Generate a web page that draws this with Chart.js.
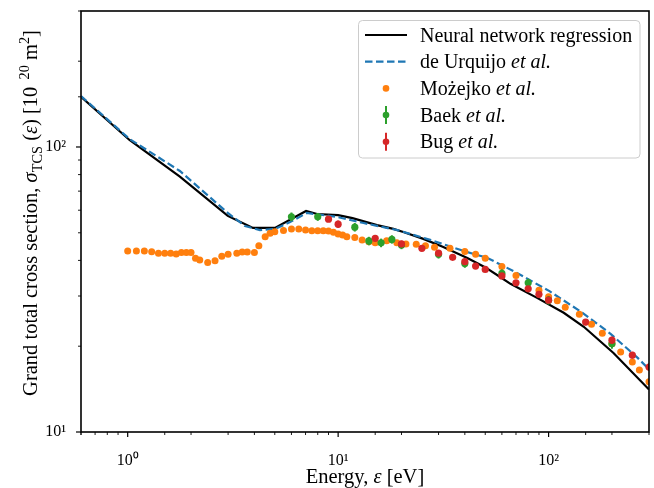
<!DOCTYPE html>
<html>
<head>
<meta charset="utf-8">
<script src="https://cdn.jsdelivr.net/npm/chart.js@4.4.0/dist/chart.umd.min.js"></script>
<style>
  html, body { margin: 0; padding: 0; background: #fff; }
  #wrap { width: 654px; height: 488px; }
</style>
</head>
<body>
<div id="wrap"><canvas id="c" width="654" height="488"></canvas></div>
<script>
// grand total cross section vs energy, log-log

const nnEnergy = [0.6, 1.02, 1.77, 2.99, 3.94, 5.01, 7.04, 7.94, 10, 11.7, 15.3, 18.3, 20.4, 25.4, 31.6, 41.1, 50.1, 59.1, 65.9, 88.6, 118, 147, 204, 300];
const nnSigma = [150, 105.8, 78.7, 57.3, 52.0, 52.0, 59.6, 58.2, 57.7, 56.3, 53.2, 51.6, 50.3, 47.6, 44.6, 40.8, 37.8, 34.9, 33.1, 29.5, 26.2, 23.4, 18.9, 14.1];

const urqEnergy = [0.6, 1.02, 1.77, 2.99, 3.61, 4.25, 5.01, 5.91, 7.1, 9.9, 13.2, 19.1, 27.4, 39.4, 51.2, 69.6, 101, 145, 197, 265, 300];
const urqSigma = [151, 106.7, 82.4, 58.7, 52.8, 51.1, 51.6, 54.5, 58.7, 56.8, 54.1, 51.1, 47.2, 43.2, 40.8, 36.4, 31.2, 26.2, 22.1, 18.2, 16.6];

const mozEnergy = [1.0, 1.1, 1.2, 1.3, 1.4, 1.5, 1.6, 1.7, 1.8, 1.9, 2.0, 2.1, 2.2, 2.4, 2.6, 2.8, 3.0, 3.3, 3.5, 3.7, 4.0, 4.2, 4.5, 4.75, 5.0,
  5.5, 6.0, 6.5, 7.0, 7.5, 8.0, 8.5, 9.0, 9.5, 10, 10.5, 11, 12, 13, 14, 15, 17, 19, 21, 23.5, 26, 28.7, 34, 40, 45, 50,
  60, 70, 90, 100, 110, 120, 140, 160, 180, 200, 220, 250, 270, 300];
const mozSigma = [43.2, 43.2, 43.2, 42.9, 42.4, 42.4, 42.4, 42.1, 42.6, 42.6, 42.6, 40.7, 40.1, 39.3, 39.9, 41.4, 42.0, 42.4, 42.8, 42.8, 42.6, 45.0, 48.4, 49.8, 50.4,
  50.9, 51.6, 51.6, 51.1, 50.8, 50.8, 50.8, 50.7, 50.2, 49.5, 49.1, 48.4, 48.1, 47.2, 46.5, 46.1, 46.9, 46.1, 45.7, 45.6, 45.0, 44.5, 44.1, 43.0, 42.0, 40.7,
  38.1, 35.4, 31.4, 29.8, 28.9, 27.4, 25.9, 23.9, 22.2, 20.4, 19.1, 17.6, 16.5, 15.0];

const baekEnergy = [6, 8, 12, 14, 16, 18, 20, 30, 40, 60, 80, 100, 200];
const baekSigma = [56.9, 56.9, 52.3, 46.8, 46.1, 47.4, 45.3, 42.0, 39.0, 36.0, 33.4, 29.0, 20.4];
const baekErr = [2.0, 1.8, 1.8, 1.6, 1.6, 1.6, 1.5, 1.4, 1.3, 1.2, 1.1, 1.0, 0.8];

const bugEnergy = [9, 10, 15, 20, 25, 30, 35, 40, 45, 50, 60, 70, 80, 90, 100, 150, 200, 250, 300];
const bugSigma = [55.8, 53.6, 47.8, 45.7, 44.1, 42.4, 41.0, 39.6, 38.2, 37.2, 35.3, 33.4, 31.8, 30.4, 29.0, 24.3, 21.0, 18.6, 16.9];
const bugErr = [1.2, 1.6, 1.0, 1.2, 0.9, 0.9, 0.8, 0.9, 0.8, 0.8, 0.8, 0.7, 0.7, 0.7, 0.7, 0.6, 0.6, 0.5, 0.5];

const FONT = '"Liberation Serif", "Times New Roman", serif';
const C_BLUE = '#1f77b4', C_ORANGE = '#ff7f0e', C_GREEN = '#2ca02c', C_RED = '#d62728';
const TITLE_SIZE = 20.5;

function pts(xs, ys) {
  return xs.map((x, i) => ({ x: x, y: ys[i] }));
}

function fnt(size, italic) {
  return (italic ? 'italic ' : '') + size + 'px ' + FONT;
}

// text made of runs: {t, i (italic), sub, sup}
function richWidth(ctx, parts, size) {
  let w = 0;
  parts.forEach(p => {
    ctx.font = fnt((p.sub || p.sup) ? size * 0.7 : size, p.i);
    w += ctx.measureText(p.t).width;
  });
  return w;
}

function drawRich(ctx, parts, x, y, size) {
  ctx.textAlign = 'left';
  ctx.textBaseline = 'alphabetic';
  parts.forEach(p => {
    const s = (p.sub || p.sup) ? size * 0.7 : size;
    ctx.font = fnt(s, p.i);
    let dy = 0;
    if (p.sub) dy = size * 0.22;
    if (p.sup) dy = -size * 0.4;
    ctx.fillText(p.t, x, y + dy);
    x += ctx.measureText(p.t).width;
  });
}

const isMajor = v => Math.abs(Math.log10(v) - Math.round(Math.log10(v))) < 1e-9;
const supDigits = { '0': '\u2070', '1': '\u00b9', '2': '\u00b2', '3': '\u00b3', '-': '\u207b' };
const powLabel = v => '10' + String(Math.round(Math.log10(v))).split('').map(ch => supDigits[ch]).join('');

const errorBars = {
  id: 'errorBars',
  beforeDatasetDraw(chart, args) {
    const ds = chart.data.datasets[args.index];
    if (!ds.errors) return;
    const ctx = chart.ctx, xs = chart.scales.x, ys = chart.scales.y, a = chart.chartArea;
    ctx.save();
    ctx.beginPath();
    ctx.rect(a.left, a.top, a.right - a.left, a.bottom - a.top);
    ctx.clip();
    ctx.strokeStyle = ds.borderColor;
    ctx.lineWidth = 2;
    ds.data.forEach((p, i) => {
      const px = xs.getPixelForValue(p.x);
      ctx.beginPath();
      ctx.moveTo(px, ys.getPixelForValue(p.y - ds.errors[i]));
      ctx.lineTo(px, ys.getPixelForValue(p.y + ds.errors[i]));
      ctx.stroke();
    });
    ctx.restore();
  }
};

const frame = {
  id: 'frame',
  afterDatasetsDraw(chart) {
    const ctx = chart.ctx, a = chart.chartArea;
    ctx.save();
    ctx.strokeStyle = '#000';
    // ticks, bottom and left only
    chart.scales.x.ticks.forEach(t => {
      const px = chart.scales.x.getPixelForValue(t.value);
      const major = isMajor(t.value);
      ctx.lineWidth = major ? 1.2 : 0.9;
      ctx.beginPath();
      ctx.moveTo(px, a.bottom);
      ctx.lineTo(px, a.bottom + (major ? 5 : 3));
      ctx.stroke();
    });
    chart.scales.y.ticks.forEach(t => {
      const py = chart.scales.y.getPixelForValue(t.value);
      const major = isMajor(t.value);
      ctx.lineWidth = major ? 1.2 : 0.9;
      ctx.beginPath();
      ctx.moveTo(a.left, py);
      ctx.lineTo(a.left - (major ? 5 : 3), py);
      ctx.stroke();
    });
    ctx.lineWidth = 1.6;
    ctx.strokeRect(a.left, a.top, a.right - a.left, a.bottom - a.top);
    ctx.restore();
  },
  afterDraw(chart) {
    const ctx = chart.ctx, a = chart.chartArea;
    ctx.save();
    ctx.fillStyle = '#000';

    // x title
    const xt = [{ t: 'Energy, ' }, { t: '\u03b5', i: true }, { t: ' [eV]' }];
    const xw = richWidth(ctx, xt, TITLE_SIZE);
    drawRich(ctx, xt, (a.left + a.right) / 2 - xw / 2, 483, TITLE_SIZE);

    // y title, rotated
    const yt = [{ t: 'Grand total cross section, ' }, { t: '\u03c3', i: true }, { t: 'TCS', sub: true },
      { t: ' (' }, { t: '\u03b5', i: true }, { t: ') [10' }, { t: '  20', sup: true }, { t: ' m' }, { t: '2', sup: true }, { t: ']' }];
    const yw = richWidth(ctx, yt, TITLE_SIZE);
    ctx.translate(37, 213);
    ctx.rotate(-Math.PI / 2);
    drawRich(ctx, yt, -yw / 2, 0, TITLE_SIZE);
    ctx.restore();

    // legend
    ctx.save();
    const L = { x: 358.5, y: 20.5, w: 281.5, h: 137.5, r: 4 };
    ctx.beginPath();
    ctx.roundRect(L.x, L.y, L.w, L.h, L.r);
    ctx.fillStyle = 'rgba(255,255,255,0.8)';
    ctx.fill();
    ctx.strokeStyle = '#cccccc';
    ctx.lineWidth = 1;
    ctx.stroke();

    const rows = [
      { parts: [{ t: 'Neural network regression' }], kind: 'line', color: '#000' },
      { parts: [{ t: 'de Urquijo ' }, { t: 'et al.', i: true }], kind: 'dash', color: C_BLUE },
      { parts: [{ t: 'Mo\u017cejko ' }, { t: 'et al.', i: true }], kind: 'dot', color: C_ORANGE },
      { parts: [{ t: 'Baek ' }, { t: 'et al.', i: true }], kind: 'err', color: C_GREEN },
      { parts: [{ t: 'Bug ' }, { t: 'et al.', i: true }], kind: 'err', color: C_RED }
    ];
    rows.forEach((row, k) => {
      const cy = 35 + k * 26.7;
      ctx.strokeStyle = row.color;
      ctx.fillStyle = row.color;
      if (row.kind === 'line' || row.kind === 'dash') {
        ctx.lineWidth = 2.2;
        ctx.setLineDash(row.kind === 'dash' ? [7.5, 3.5] : []);
        ctx.beginPath();
        ctx.moveTo(365, cy);
        ctx.lineTo(407, cy);
        ctx.stroke();
        ctx.setLineDash([]);
      } else {
        if (row.kind === 'err') {
          ctx.lineWidth = 2;
          ctx.beginPath();
          ctx.moveTo(386, cy - 9);
          ctx.lineTo(386, cy + 9);
          ctx.stroke();
        }
        ctx.beginPath();
        ctx.arc(386, cy, 3.3, 0, Math.PI * 2);
        ctx.fill();
      }
      ctx.fillStyle = '#000';
      drawRich(ctx, row.parts, 420, cy + 6.5, 20);
    });
    ctx.restore();
  }
};

const tickFont = { family: FONT, size: 16 };

function fixBox(w, h) {
  return s => {
    if (w) s.width = w;
    if (h) s.height = h;
    s.paddingTop = 0; s.paddingBottom = 0; s.paddingLeft = 0; s.paddingRight = 0;
  };
}

new Chart(document.getElementById('c'), {
  type: 'scatter',
  data: {
    datasets: [
      {
        label: 'Neural network regression',
        data: pts(nnEnergy, nnSigma),
        showLine: true, borderColor: '#000', borderWidth: 2.2, pointRadius: 0, tension: 0, order: 5
      },
      {
        label: 'de Urquijo et al.',
        data: pts(urqEnergy, urqSigma),
        showLine: true, borderColor: C_BLUE, borderWidth: 2.2, borderDash: [7.5, 3.5], pointRadius: 0, tension: 0, order: 4
      },
      {
        label: 'Możejko et al.',
        data: pts(mozEnergy, mozSigma),
        backgroundColor: C_ORANGE, borderColor: C_ORANGE, pointRadius: 3.5, pointBorderWidth: 0, order: 3
      },
      {
        label: 'Baek et al.',
        data: pts(baekEnergy, baekSigma),
        errors: baekErr,
        backgroundColor: C_GREEN, borderColor: C_GREEN, pointRadius: 3.6, pointBorderWidth: 0, order: 2
      },
      {
        label: 'Bug et al.',
        data: pts(bugEnergy, bugSigma),
        errors: bugErr,
        backgroundColor: C_RED, borderColor: C_RED, pointRadius: 3.6, pointBorderWidth: 0, order: 1
      }
    ]
  },
  options: {
    responsive: false,
    animation: false,
    events: [],
    layout: { padding: { top: 11, right: 5, left: 0, bottom: 0 } },
    plugins: { legend: { display: false }, tooltip: { enabled: false } },
    scales: {
      x: {
        type: 'logarithmic', min: 0.6, max: 300,
        grid: { display: false }, border: { display: false },
        ticks: {
          autoSkip: false, maxRotation: 0, padding: 11, color: '#000', font: tickFont,
          callback: v => isMajor(v) ? powLabel(v) : ''
        },
        afterFit: fixBox(0, 56)
      },
      y: {
        type: 'logarithmic', min: 10, max: 300,
        grid: { display: false }, border: { display: false },
        ticks: {
          autoSkip: false, padding: 7, color: '#000', font: tickFont,
          callback: v => isMajor(v) ? powLabel(v) : ''
        },
        afterFit: fixBox(81, 0)
      }
    }
  },
  plugins: [errorBars, frame]
});
</script>
</body>
</html>
